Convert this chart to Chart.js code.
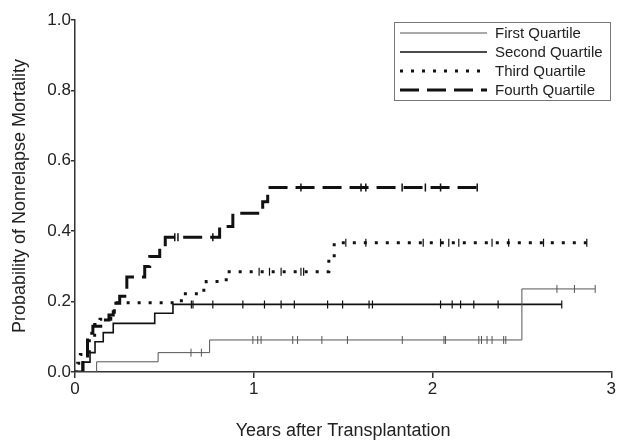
<!DOCTYPE html>
<html><head><meta charset="utf-8">
<script src="https://cdn.jsdelivr.net/npm/chart.js@4.4.1/dist/chart.umd.min.js"></script>
<style>html,body{margin:0;padding:0;background:#fff}#wrap{width:617px;height:440px}</style>
</head><body><div id="wrap"><canvas id="c" width="617" height="440"></canvas></div>
<script>
// ---- data ----
const seriesNames = ['First Quartile', 'Second Quartile', 'Third Quartile', 'Fourth Quartile'];
const xTicks = [0, 1, 2, 3];
const yTicks = [0, 0.2, 0.4, 0.6, 0.8, 1.0];

const firstT = [0, 0.121, 0.465, 0.753, 2.50, 2.91];
const firstP = [0, 0.029, 0.055, 0.091, 0.236, 0.236];
const firstCensor = [0.649, 0.707, 0.995, 1.022, 1.041, 1.218, 1.245, 1.381, 1.524, 1.831, 2.064, 2.073, 2.259, 2.274, 2.305, 2.333, 2.398, 2.41, 2.696, 2.794, 2.91];

const secondT = [0, 0.04, 0.084, 0.112, 0.158, 0.214, 0.446, 0.548, 2.723];
const secondP = [0, 0.028, 0.055, 0.086, 0.112, 0.138, 0.167, 0.192, 0.192];
const secondCensor = [0.651, 0.66, 0.771, 0.939, 1.06, 1.153, 1.227, 1.413, 1.497, 1.645, 1.664, 2.045, 2.11, 2.157, 2.231, 2.367, 2.723];

const thirdT = [0, 0.015, 0.03, 0.08, 0.11, 0.14, 0.2, 0.22, 0.595, 0.697, 0.734, 0.846, 1.42, 1.45, 2.863];
const thirdP = [0, 0.025, 0.05, 0.10, 0.135, 0.15, 0.17, 0.197, 0.222, 0.232, 0.257, 0.285, 0.32, 0.367, 0.367];
const thirdCensor = [1.03, 1.088, 1.153, 1.264, 1.279, 1.515, 1.627, 1.948, 2.045, 2.091, 2.147, 2.333, 2.426, 2.621, 2.863];

const fourthT = [0, 0.045, 0.07, 0.10, 0.155, 0.19, 0.214, 0.25, 0.29, 0.39, 0.418, 0.474, 0.505, 0.809, 0.883, 1.05, 1.078, 2.25];
const fourthP = [0, 0.04, 0.11, 0.13, 0.148, 0.162, 0.195, 0.215, 0.27, 0.30, 0.328, 0.352, 0.383, 0.413, 0.451, 0.484, 0.524, 0.524];
const fourthCensor = [0.558, 0.576, 0.771, 1.264, 1.6, 1.627, 1.83, 1.96, 2.045, 2.25];

// ---- styles ----
const styles = [
  {color: '#555', width: 1, dash: [], tickW: 1},
  {color: '#111', width: 1.6, dash: [], tickW: 1.2},
  {color: '#111', width: 3, dash: [3, 8], tickW: 1.2},
  {color: '#111', width: 3, dash: [19, 8], tickW: 1.5}
];
const Ts = [firstT, secondT, thirdT, fourthT];
const Ps = [firstP, secondP, thirdP, fourthP];
const Cs = [firstCensor, secondCensor, thirdCensor, fourthCensor];

function valueAt(T, P, t) { let v = P[0]; for (let i = 0; i < T.length; i++) { if (T[i] <= t + 1e-9) v = P[i]; } return v; }

const datasets = [];
for (let i = 0; i < 4; i++) {
  datasets.push({
    type: 'line', label: seriesNames[i],
    data: Ts[i].map((t, k) => ({x: t, y: Ps[i][k]})),
    stepped: true, borderColor: styles[i].color, borderWidth: styles[i].width,
    borderDash: styles[i].dash, borderCapStyle: 'butt', pointRadius: 0, fill: false, tension: 0
  });
  datasets.push({
    type: 'scatter', label: seriesNames[i] + ' censored',
    data: Cs[i].map(t => ({x: t, y: valueAt(Ts[i], Ps[i], t)})),
    showLine: false, pointStyle: 'line', rotation: 90, pointRadius: 4, pointHoverRadius: 4,
    borderColor: styles[i].color, pointBorderWidth: styles[i].tickW, borderWidth: styles[i].tickW, backgroundColor: styles[i].color
  });
}

const legendPlugin = {
  id: 'boxLegend',
  afterDraw(chart) {
    const ctx = chart.ctx; ctx.save();
    ctx.setLineDash([]); ctx.strokeStyle = '#777'; ctx.lineWidth = 1;
    ctx.strokeRect(394.5, 22.5, 216, 78);
    seriesNames.forEach((name, i) => {
      const y = 33 + i * 19;
      ctx.beginPath(); ctx.setLineDash(styles[i].dash); ctx.lineWidth = styles[i].width;
      ctx.strokeStyle = styles[i].color; ctx.lineCap = 'butt';
      ctx.moveTo(400, y); ctx.lineTo(487, y); ctx.stroke();
      ctx.setLineDash([]);
      ctx.fillStyle = '#222'; ctx.font = '15px "Liberation Sans", Arial, sans-serif';
      ctx.textBaseline = 'middle'; ctx.textAlign = 'left';
      ctx.fillText(name, 495, y + 1);
    });
    ctx.restore();
  }
};

const axisColor = '#333';
new Chart(document.getElementById('c'), {
  data: {datasets},
  options: {
    responsive: false, animation: false, devicePixelRatio: 1,
    layout: {padding: {left: 0, right: 4, top: 20, bottom: 0}},
    plugins: {legend: {display: false}, tooltip: {enabled: false}},
    scales: {
      x: {
        type: 'linear', min: 0, max: 3,
        afterBuildTicks: s => { s.ticks = xTicks.map(v => ({value: v})); },
        afterFit: s => { s.height = 68; },
        ticks: {color: '#222', font: {family: '"Liberation Sans", Arial, sans-serif', size: 17}, padding: 1, callback: v => String(v), maxRotation: 0},
        grid: {drawOnChartArea: false, drawTicks: true, tickLength: 6, color: axisColor, lineWidth: 1.5},
        border: {display: true, color: axisColor, width: 1.5},
        title: {display: true, text: 'Years after Transplantation', color: '#222', font: {family: '"Liberation Sans", Arial, sans-serif', size: 18, lineHeight: 1}, padding: {top: 0, bottom: 0}}
      },
      y: {
        type: 'linear', min: 0, max: 1,
        afterBuildTicks: s => { s.ticks = yTicks.map(v => ({value: v})); },
        afterFit: s => { s.width = 75; },
        ticks: {color: '#222', font: {family: '"Liberation Sans", Arial, sans-serif', size: 17}, padding: 0, callback: v => Number(v).toFixed(1)},
        grid: {drawOnChartArea: false, drawTicks: true, tickLength: 4, color: axisColor, lineWidth: 1.5},
        border: {display: true, color: axisColor, width: 1.5},
        title: {display: true, text: 'Probability of Nonrelapse Mortality', color: '#222', font: {family: '"Liberation Sans", Arial, sans-serif', size: 18, lineHeight: 1}, padding: {top: 11, bottom: 0}}
      }
    }
  },
  plugins: [legendPlugin]
});
</script></body></html>
